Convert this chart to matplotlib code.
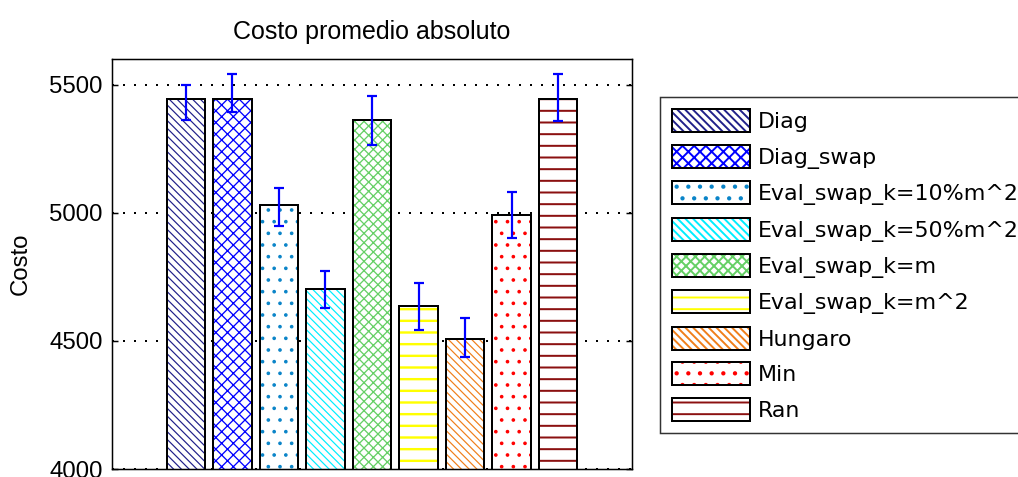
import numpy as np
import matplotlib.pyplot as plt
from matplotlib.patches import Patch
from matplotlib.legend_handler import HandlerTuple

# at dpi 140 one hatch cell is 140 px, so '--' gives ~12 px line spacing
DPI = 140
PT = 72 / DPI   # points per pixel

plt.rcParams['font.family'] = ['Liberation Sans', 'DejaVu Sans']

# mean cost per method, with the lower/upper ends of the error bars
methods = ['Diag', 'Diag_swap', 'Eval_swap_k=10%m^2', 'Eval_swap_k=50%m^2',
           'Eval_swap_k=m', 'Eval_swap_k=m^2', 'Hungaro', 'Min', 'Ran']
costo = [5445, 5445, 5030, 4703, 5361, 4635, 4507, 4993, 5445]
err_lo = [5361, 5393, 4948, 4627, 5263, 4543, 4438, 4900, 5357]
err_hi = [5500, 5543, 5098, 4772, 5454, 4724, 4588, 5082, 5543]

hatch_colors = ['#20208a', '#0000ff', '#0a84c8', '#00eeff', '#66d066',
                '#ffff00', '#f07f1a', '#ff0000', '#8b1010']
diag = '\\' * 6
hatches = [diag, 'xxxx', '..', diag, 'xxxxx', '--', diag, '..', '--']
hatch_lw = [1.2, 1.3, 1.3, 1.2, 1.3, 2.4, 1.2, 1.3, 2.0]

fig = plt.figure(figsize=(1018 / DPI, 477 / DPI), dpi=DPI)
ax = fig.add_axes([112/1018, 1 - 469/477, 520/1018, 410/477])

x = np.arange(1, len(methods) + 1)
w = 0.82
handles = []
for i in range(len(methods)):
    with plt.rc_context({'hatch.linewidth': hatch_lw[i] * PT}):
        ax.bar(x[i], costo[i], w, bottom=0, color='white', edgecolor=hatch_colors[i],
               hatch=hatches[i], linewidth=0, zorder=2)
        hp = Patch(facecolor='white', edgecolor=hatch_colors[i], hatch=hatches[i],
                   linewidth=0)
    ax.bar(x[i], costo[i], w, bottom=0, fill=False, edgecolor='black',
           linewidth=2 * PT, zorder=3)
    bp = Patch(fill=False, edgecolor='black', linewidth=2 * PT)
    handles.append((hp, bp))

mid = (np.array(err_lo) + np.array(err_hi)) / 2
yerr = [mid - np.array(err_lo), np.array(err_hi) - mid]
ax.errorbar(x, mid, yerr=yerr, fmt='none', ecolor='#0000ff', elinewidth=2.2 * PT,
            capsize=5 * PT, capthick=2.2 * PT, zorder=4)

ax.set_xlim(5 - 5.59, 5 + 5.59)
ax.set_ylim(4000, 5600)
ax.set_yticks([4000, 4500, 5000, 5500])
ax.set_xticks([])
ax.tick_params(axis='y', direction='in', right=True, length=6 * PT,
               width=1.5 * PT, labelsize=24 * PT, pad=9 * PT)
ax.yaxis.grid(True, linestyle=(0, (1, 4.5)), color='black', linewidth=2 * PT, zorder=1)
ax.set_axisbelow(True)
for s in ax.spines.values():
    s.set_linewidth(1.5 * PT)

ax.set_title('Costo promedio absoluto', fontsize=25 * PT, pad=20 * PT)
ax.set_ylabel('Costo', fontsize=24 * PT)
ax.yaxis.set_label_coords((32 - 112) / 520, 0.5)

leg = fig.legend(handles, methods, handler_map={tuple: HandlerTuple(ndivide=1)},
                 loc='upper left', bbox_to_anchor=(660/1018, 1 - 97/477),
                 prop={'family': 'DejaVu Sans', 'size': 22.2 * PT},
                 frameon=True, fancybox=False, edgecolor='black',
                 handlelength=3.5, handleheight=1.22, labelspacing=0.56,
                 handletextpad=0.35, borderpad=0.55, borderaxespad=0)
leg.get_frame().set_linewidth(1.5 * PT)

fig.savefig('out.png', dpi=DPI)
